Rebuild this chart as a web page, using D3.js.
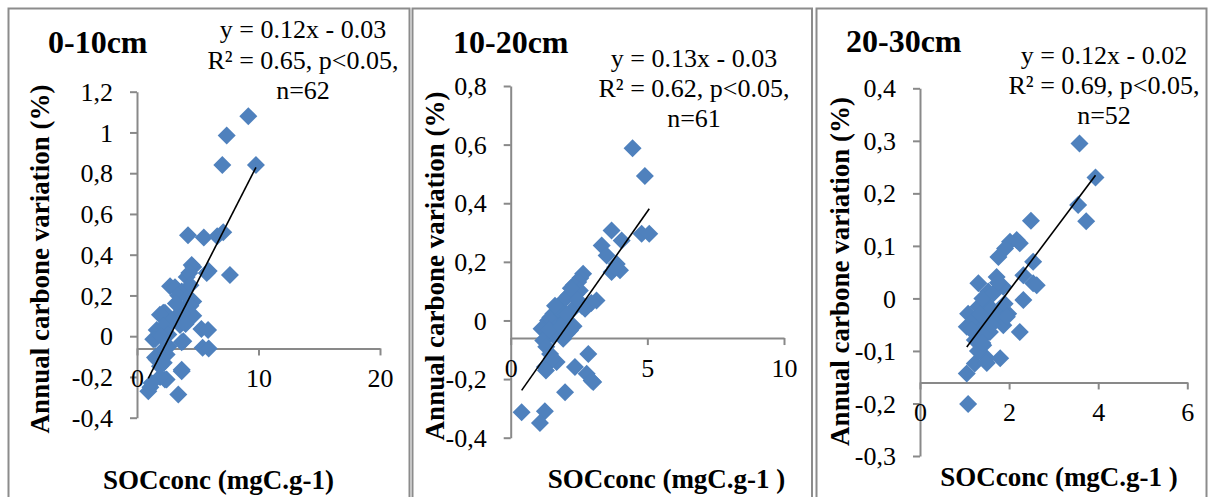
<!DOCTYPE html>
<html>
<head>
<meta charset="utf-8">
<script src="https://cdn.jsdelivr.net/npm/d3@7"></script>
<style>
  html, body { margin: 0; padding: 0; background: #ffffff; }
  svg { display: block; }
</style>
</head>
<body>
<svg id="chart" width="1208" height="497"></svg>
<script>
// ---- Data: SOC concentration (mgC/g) vs annual carbon variation (%) by soil depth ----
const depthLabels = ["0-10cm", "10-20cm", "20-30cm"];

const equationLines = [
  ["y = 0.12x - 0.03", "R² = 0.65, p<0.05,", "n=62"],
  ["y = 0.13x - 0.03", "R² = 0.62, p<0.05,", "n=61"],
  ["y = 0.12x - 0.02", "R² = 0.69, p<0.05,", "n=52"]
];

const yAxisTitle = "Annual carbone variation (%)";
const xAxisTitles = ["SOCconc (mgC.g-1)", "SOCconc (mgC.g-1 )", "SOCconc (mgC.g-1 )"];

const xTicks0_10 = [0, 10, 20];
const yTicks0_10 = [-0.4, -0.2, 0, 0.2, 0.4, 0.6, 0.8, 1, 1.2];
const xTicks10_20 = [0, 5, 10];
const yTicks10_20 = [-0.4, -0.2, 0, 0.2, 0.4, 0.6, 0.8];
const xTicks20_30 = [0, 2, 4, 6];
const yTicks20_30 = [-0.3, -0.2, -0.1, 0, 0.1, 0.2, 0.3, 0.4];

// value where the horizontal axis crosses the vertical one
const xAxisCross = [-0.06, -0.06, -0.16];

const points0_10 = [
  [9.16, 1.08], [7.38, 0.985], [7.02, 0.84], [9.79, 0.84],
  [4.2, 0.495], [5.5, 0.485], [6.6, 0.49], [7.1, 0.51], [7.65, 0.30],
  [4.63, 0.34], [4.5, 0.35], [5.9, 0.32], [5.74, 0.31], [4.09, 0.29], [4.3, 0.31],
  [2.72, 0.245], [3.13, 0.24], [3.68, 0.22], [3.4, 0.20], [4.63, 0.17], [4.2, 0.19],
  [3.95, 0.14], [4.4, 0.15], [2.16, 0.115], [2.3, 0.115], [1.89, 0.105], [3.13, 0.09], [4.63, 0.10], [3.7, 0.11], [2.8, 0.07],
  [5.3, 0.035], [5.85, 0.03], [3.54, 0.055], [4.0, 0.06], [1.62, 0.03], [2.2, 0.05],
  [1.34, -0.015], [1.48, -0.015], [2.58, 0.008], [2.0, 0.0], [3.81, -0.025], [3.68, -0.03],
  [5.4, -0.057], [5.9, -0.06],
  [1.48, -0.105], [1.62, -0.114], [2.44, -0.09], [2.1, -0.07], [1.89, -0.147], [2.2, -0.13],
  [3.68, -0.165], [3.68, -0.172], [2.44, -0.212], [2.3, -0.212], [1.9, -0.2],
  [0.93, -0.27], [1.1, -0.25], [3.4, -0.286], [1.2, -0.23],
  [2.6, -0.05], [3.2, 0.16], [4.4, 0.25]
];

const points10_20 = [
  [4.46, 0.588], [4.91, 0.493],
  [3.69, 0.307], [4.06, 0.273], [4.79, 0.296], [5.07, 0.296], [3.33, 0.256], [3.51, 0.222], [3.88, 0.193], [3.69, 0.165], [4.0, 0.171], [3.82, 0.182],
  [2.65, 0.159], [2.55, 0.145], [2.47, 0.131], [2.3, 0.12], [3.14, 0.068], [2.95, 0.06], [2.11, 0.085], [2.53, 0.102], [2.4, 0.09], [1.95, 0.07],
  [2.23, 0.034], [2.72, 0.04], [2.6, 0.05], [1.56, 0.023], [1.37, 0.0], [1.45, 0.01], [1.13, -0.028], [1.8, -0.011], [1.9, 0.02], [2.0, 0.0],
  [2.17, -0.034], [2.3, -0.02], [1.56, -0.051], [1.19, -0.068], [1.92, -0.062], [1.7, -0.04], [1.4, -0.03], [2.05, -0.045],
  [1.44, -0.114], [1.3, -0.09], [1.68, -0.142], [1.25, -0.159], [1.29, -0.171], [1.5, -0.13],
  [2.84, -0.114], [2.35, -0.159], [2.78, -0.182], [3.02, -0.21], [2.96, -0.205], [1.99, -0.245],
  [0.4, -0.313], [1.25, -0.31], [1.07, -0.35],
  [1.75, 0.04], [1.62, 0.05], [2.2, 0.11], [2.05, 0.02], [1.85, -0.02], [2.45, 0.07]
];

const points20_30 = [
  [3.58, 0.295], [3.94, 0.23], [3.55, 0.178], [3.73, 0.147],
  [2.49, 0.148], [2.17, 0.111], [2.02, 0.108], [2.24, 0.105], [1.91, 0.095], [1.76, 0.079], [2.54, 0.07], [2.32, 0.044], [2.54, 0.029], [2.62, 0.025],
  [1.31, 0.029], [1.72, 0.041], [1.87, 0.022], [1.53, 0.013], [2.32, -0.003], [1.31, -0.016], [1.53, -0.013], [1.80, -0.022], [1.98, -0.029],
  [1.08, -0.029], [1.23, -0.041], [1.46, -0.038], [1.72, -0.041], [1.87, -0.051], [1.05, -0.054], [1.35, -0.060], [1.57, -0.064], [2.24, -0.064],
  [1.23, -0.079], [1.42, -0.089], [1.50, -0.114], [1.80, -0.114], [1.23, -0.124], [1.05, -0.143], [1.08, -0.201],
  [1.4, 0.0], [1.6, -0.02], [1.35, -0.03], [1.65, 0.01], [1.9, -0.01], [1.45, -0.07], [1.3, -0.1], [1.6, -0.05], [1.75, 0.03], [1.5, -0.123], [1.15, -0.06], [1.95, -0.035], [1.4, -0.085]
];

const panelPoints = [points0_10, points10_20, points20_30];
const panelXTicks = [xTicks0_10, xTicks10_20, xTicks20_30];
const panelYTicks = [yTicks0_10, yTicks10_20, yTicks20_30];

// ---- Layout (pixels) ----
const layout = [
  { frame: [8.5, 409.5], x0: 137, x1: 380, yTop: 91.7, yBot: 417.7,
    title: [48, 53], eqX: 303, eqY: [38, 68.5, 99],
    yTitle: [48.5, 259], xTitle: [218.5, 489] },
  { frame: [412.5, 812], x0: 510.7, x1: 784, yTop: 86, yBot: 437.7,
    title: [453, 52.5], eqX: 694, eqY: [67, 97, 127.3],
    yTitle: [443.5, 266], xTitle: [666.5, 487.5] },
  { frame: [816.5, 1206.5], x0: 920, x1: 1187.3, yTop: 88.3, yBot: 456,
    title: [846, 52], eqX: 1104, eqY: [63.5, 93.5, 124],
    yTitle: [848.5, 271.5], xTitle: [1059, 485.5] }
];

const FONT = "'Liberation Serif', 'Times New Roman', Times, serif";
const AXIS_COLOR = "#898989";
const MARKER_COLOR = "#4F81BD";
const TICK_LEN = 7;
const MARKER_R = 9;

const svg = d3.select("#chart");
svg.append("rect").attr("width", 1208).attr("height", 497).attr("fill", "#fff");

const fmt = v => String(+v.toFixed(2)).replace(".", ",");

// least-squares trend line
function linearFit(pts) {
  const mx = d3.mean(pts, p => p[0]);
  const my = d3.mean(pts, p => p[1]);
  const sxy = d3.sum(pts, p => (p[0] - mx) * (p[1] - my));
  const sxx = d3.sum(pts, p => (p[0] - mx) ** 2);
  const slope = sxy / sxx;
  return { slope, intercept: my - slope * mx };
}

const diamondPath = `M0,${-MARKER_R}L${MARKER_R},0L0,${MARKER_R}L${-MARKER_R},0Z`;

layout.forEach((L, i) => {
  const pts = panelPoints[i];
  const xt = panelXTicks[i];
  const yt = panelYTicks[i];
  const g = svg.append("g");

  // chart frame
  g.append("rect")
    .attr("x", L.frame[0]).attr("y", 8.5)
    .attr("width", L.frame[1] - L.frame[0]).attr("height", 520)
    .attr("fill", "none").attr("stroke", "#8c8c8c").attr("stroke-width", 2);

  const x = d3.scaleLinear().domain([xt[0], xt[xt.length - 1]]).range([L.x0, L.x1]);
  const y = d3.scaleLinear().domain([yt[0], yt[yt.length - 1]]).range([L.yBot, L.yTop]);

  // vertical axis
  const yAxis = d3.axisLeft(y).tickValues(yt).tickFormat(fmt).tickSizeInner(TICK_LEN).tickSizeOuter(0).tickPadding(17);
  const gy = g.append("g").attr("transform", `translate(${L.x0},0)`).call(yAxis);

  // horizontal axis, crossing at xAxisCross
  const xAxis = d3.axisBottom(x).tickValues(xt).tickFormat(fmt).tickSizeInner(TICK_LEN).tickSizeOuter(0);
  const gx = g.append("g").attr("transform", `translate(0,${y(xAxisCross[i])})`).call(xAxis);

  [gx, gy].forEach(ax => {
    ax.select(".domain").attr("stroke", AXIS_COLOR).attr("stroke-width", 2);
    ax.selectAll(".tick line").attr("stroke", AXIS_COLOR).attr("stroke-width", 2);
    ax.selectAll(".tick text")
      .attr("fill", "#000").style("font-family", FONT).style("font-size", "26px");
  });
  gx.selectAll(".tick text").attr("dy", null).attr("y", 39);
  gy.selectAll(".tick text").attr("dy", "0.33em");

  // scatter markers
  g.append("g").selectAll("path").data(pts).join("path")
    .attr("d", diamondPath)
    .attr("transform", d => `translate(${x(d[0])},${y(d[1])})`)
    .attr("fill", MARKER_COLOR);

  // linear trend line across the data range
  const fit = linearFit(pts);
  const xr = d3.extent(pts, p => p[0]);
  g.append("line")
    .attr("x1", x(xr[0])).attr("y1", y(fit.slope * xr[0] + fit.intercept))
    .attr("x2", x(xr[1])).attr("y2", y(fit.slope * xr[1] + fit.intercept))
    .attr("stroke", "#000").attr("stroke-width", 1.6);

  // depth title
  g.append("text")
    .attr("x", L.title[0]).attr("y", L.title[1])
    .style("font-family", FONT).style("font-size", "32px").style("font-weight", "bold")
    .text(depthLabels[i]);

  // regression statistics
  g.append("g").selectAll("text").data(equationLines[i]).join("text")
    .attr("x", L.eqX).attr("y", (d, k) => L.eqY[k])
    .attr("text-anchor", "middle")
    .style("font-family", FONT).style("font-size", "26px")
    .text(d => d);

  // axis titles
  g.append("text")
    .attr("transform", `translate(${L.yTitle[0]},${L.yTitle[1]}) rotate(-90)`)
    .attr("text-anchor", "middle")
    .style("font-family", FONT).style("font-size", "27px").style("font-weight", "bold")
    .text(yAxisTitle);

  g.append("text")
    .attr("x", L.xTitle[0]).attr("y", L.xTitle[1])
    .attr("text-anchor", "middle")
    .style("font-family", FONT).style("font-size", "27px").style("font-weight", "bold")
    .text(xAxisTitles[i]);
});
</script>
</body>
</html>
